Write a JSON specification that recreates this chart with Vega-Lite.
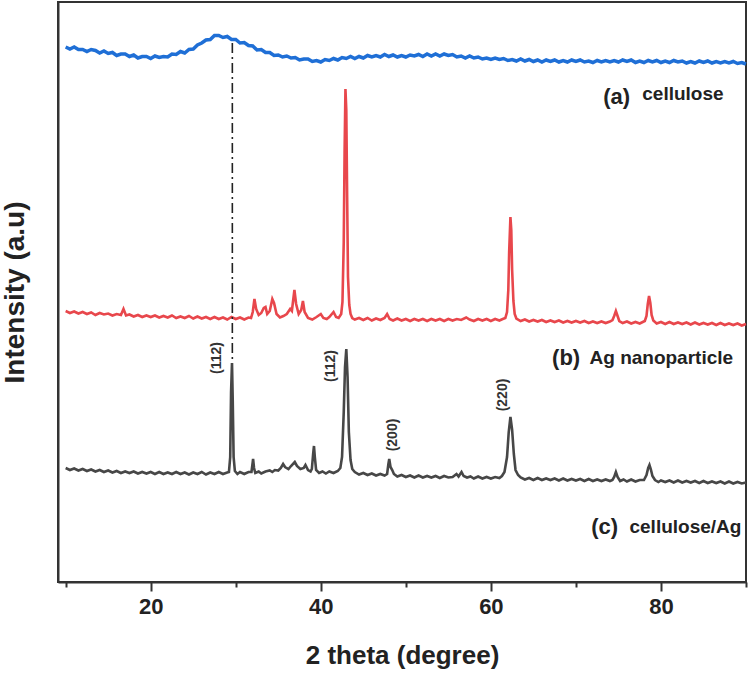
{
  "$schema": "https://vega.github.io/schema/vega-lite/v6.json",
  "width": 688,
  "height": 580,
  "autosize": {"type": "none"},
  "padding": {"left": 58, "top": 2, "right": 4, "bottom": 96},
  "background": "white",
  "config": {
    "view": {"stroke": "#333333", "strokeWidth": 2},
    "font": "Liberation Sans"
  },
  "datasets": {
    "a": [
      {"t":10,"i":535},{"t":10.5,"i":533},{"t":11,"i":535},{"t":11.5,"i":532.5},{"t":12,"i":532.5},{"t":12.5,"i":530.5},{"t":13,"i":532.5},{"t":13.5,"i":531.5},{"t":14,"i":529},{"t":14.5,"i":531},{"t":15,"i":528.5},{"t":15.5,"i":529.5},{"t":16,"i":526.5},{"t":16.5,"i":528},{"t":17,"i":528},{"t":17.5,"i":525.5},{"t":18,"i":527},{"t":18.5,"i":524},{"t":19,"i":525.5},{"t":19.5,"i":525.5},{"t":20,"i":523.5},{"t":20.5,"i":526},{"t":21,"i":524.5},{"t":21.5,"i":525.5},{"t":22,"i":525},{"t":22.5,"i":528},{"t":23,"i":527.5},{"t":23.5,"i":530.5},{"t":24,"i":529},{"t":24.5,"i":532.5},{"t":25,"i":533},{"t":25.5,"i":537},{"t":26,"i":539},{"t":26.5,"i":542},{"t":27,"i":542.5},{"t":27.5,"i":546.5},{"t":28,"i":546.5},{"t":28.5,"i":544.5},{"t":29,"i":545.5},{"t":29.5,"i":542.5},{"t":30,"i":542.5},{"t":30.5,"i":539},{"t":31,"i":539.5},{"t":31.5,"i":536.5},{"t":32,"i":536},{"t":32.5,"i":532},{"t":33,"i":532.5},{"t":33.5,"i":529.5},{"t":34,"i":529.5},{"t":34.5,"i":526.5},{"t":35,"i":527},{"t":35.5,"i":525},{"t":36,"i":526},{"t":36.5,"i":524},{"t":37,"i":524.5},{"t":37.5,"i":522},{"t":38,"i":523},{"t":38.5,"i":523},{"t":39,"i":520.5},{"t":39.5,"i":521.5},{"t":40,"i":520},{"t":40.5,"i":522.5},{"t":41,"i":521.5},{"t":41.5,"i":523.5},{"t":42,"i":522},{"t":42.5,"i":524.5},{"t":43,"i":523.5},{"t":43.5,"i":525.5},{"t":44,"i":523.5},{"t":44.5,"i":525.5},{"t":45,"i":524},{"t":45.5,"i":526.5},{"t":46,"i":525},{"t":46.5,"i":526.5},{"t":47,"i":525},{"t":47.5,"i":527.5},{"t":48,"i":525.5},{"t":48.5,"i":527},{"t":49,"i":525},{"t":49.5,"i":526.5},{"t":50,"i":525},{"t":50.5,"i":527},{"t":51,"i":526},{"t":51.5,"i":527.5},{"t":52,"i":525.5},{"t":52.5,"i":528},{"t":53,"i":526},{"t":53.5,"i":528},{"t":54,"i":526},{"t":54.5,"i":528},{"t":55,"i":526.5},{"t":55.5,"i":527.5},{"t":56,"i":525},{"t":56.5,"i":526},{"t":57,"i":524},{"t":57.5,"i":526},{"t":58,"i":524},{"t":58.5,"i":525},{"t":59,"i":523},{"t":59.5,"i":524},{"t":60,"i":522.5},{"t":60.5,"i":524},{"t":61,"i":522.5},{"t":61.5,"i":523.5},{"t":62,"i":521.5},{"t":62.5,"i":522.5},{"t":63,"i":521},{"t":63.5,"i":523},{"t":64,"i":521},{"t":64.5,"i":522.5},{"t":65,"i":520.5},{"t":65.5,"i":522},{"t":66,"i":520},{"t":66.5,"i":522},{"t":67,"i":520.5},{"t":67.5,"i":522},{"t":68,"i":520},{"t":68.5,"i":521.5},{"t":69,"i":520},{"t":69.5,"i":522},{"t":70,"i":520.5},{"t":70.5,"i":522},{"t":71,"i":520},{"t":71.5,"i":521},{"t":72,"i":519.5},{"t":72.5,"i":521.5},{"t":73,"i":520},{"t":73.5,"i":521.5},{"t":74,"i":520},{"t":74.5,"i":521.5},{"t":75,"i":520},{"t":75.5,"i":522},{"t":76,"i":520.5},{"t":76.5,"i":522},{"t":77,"i":519.5},{"t":77.5,"i":521},{"t":78,"i":519.5},{"t":78.5,"i":521.5},{"t":79,"i":520},{"t":79.5,"i":521.5},{"t":80,"i":519.5},{"t":80.5,"i":521},{"t":81,"i":519.5},{"t":81.5,"i":521.5},{"t":82,"i":520},{"t":82.5,"i":521},{"t":83,"i":519},{"t":83.5,"i":520.5},{"t":84,"i":519},{"t":84.5,"i":521},{"t":85,"i":519.5},{"t":85.5,"i":521},{"t":86,"i":519},{"t":86.5,"i":520.5},{"t":87,"i":519},{"t":87.5,"i":520.5},{"t":88,"i":519},{"t":88.5,"i":520.5},{"t":89,"i":518.5},{"t":89.5,"i":519.5},{"t":90,"i":518}
    ],
    "b": [
      {"t":10,"i":271},{"t":10.5,"i":269},{"t":11,"i":270.5},{"t":11.5,"i":268.5},{"t":12,"i":270},{"t":12.5,"i":268},{"t":13,"i":269.5},{"t":13.5,"i":267},{"t":14,"i":269},{"t":14.5,"i":267.5},{"t":15,"i":268.5},{"t":15.5,"i":266.5},{"t":16,"i":268},{"t":16.5,"i":267},{"t":16.8,"i":273},{"t":17.1,"i":266.5},{"t":17.5,"i":267.5},{"t":18,"i":265.5},{"t":18.5,"i":267},{"t":19,"i":265},{"t":19.5,"i":266.5},{"t":20,"i":265},{"t":20.5,"i":266.5},{"t":21,"i":264.5},{"t":21.5,"i":266},{"t":22,"i":264.5},{"t":22.5,"i":266.5},{"t":23,"i":264},{"t":23.5,"i":265.5},{"t":24,"i":264},{"t":24.5,"i":266},{"t":25,"i":263.5},{"t":25.5,"i":265.5},{"t":26,"i":263.5},{"t":26.5,"i":265},{"t":27,"i":263},{"t":27.5,"i":265},{"t":28,"i":263},{"t":28.5,"i":264.5},{"t":29,"i":262.5},{"t":29.5,"i":265},{"t":30,"i":263},{"t":30.5,"i":264.5},{"t":31,"i":262.5},{"t":31.5,"i":264.5},{"t":31.8,"i":264},{"t":32.0,"i":270},{"t":32.2,"i":283},{"t":32.4,"i":273},{"t":32.7,"i":267},{"t":33.0,"i":269},{"t":33.3,"i":274},{"t":33.5,"i":275},{"t":33.7,"i":268},{"t":34.0,"i":271},{"t":34.3,"i":283},{"t":34.5,"i":279},{"t":34.8,"i":268},{"t":35.2,"i":264.5},{"t":35.6,"i":266},{"t":36.0,"i":268},{"t":36.4,"i":273},{"t":36.6,"i":271},{"t":36.9,"i":292},{"t":37.1,"i":278},{"t":37.4,"i":268},{"t":37.7,"i":272},{"t":37.9,"i":281},{"t":38.1,"i":270},{"t":38.5,"i":264},{"t":39,"i":262.5},{"t":39.5,"i":265},{"t":40,"i":268},{"t":40.3,"i":264},{"t":40.7,"i":263},{"t":41,"i":265},{"t":41.5,"i":270},{"t":41.8,"i":265},{"t":42.1,"i":264},{"t":42.4,"i":268},{"t":42.55,"i":280},{"t":42.7,"i":340},{"t":42.8,"i":430},{"t":42.9,"i":493},{"t":43.0,"i":472},{"t":43.1,"i":385},{"t":43.2,"i":305},{"t":43.35,"i":277},{"t":43.5,"i":268},{"t":43.7,"i":264},{"t":44,"i":262.5},{"t":44.5,"i":264},{"t":45,"i":262},{"t":45.5,"i":264},{"t":46,"i":261.5},{"t":46.5,"i":263.5},{"t":47,"i":262},{"t":47.5,"i":264},{"t":47.8,"i":268},{"t":48.1,"i":263},{"t":48.5,"i":261.5},{"t":49,"i":263.5},{"t":49.5,"i":261.5},{"t":50,"i":263},{"t":50.5,"i":261},{"t":51,"i":263},{"t":51.5,"i":261.5},{"t":52,"i":263},{"t":52.5,"i":261},{"t":53,"i":263},{"t":53.5,"i":261.5},{"t":54,"i":263},{"t":54.5,"i":261},{"t":55,"i":263},{"t":55.5,"i":261.5},{"t":56,"i":263},{"t":56.5,"i":262},{"t":57.1,"i":264.5},{"t":57.5,"i":262.5},{"t":58,"i":261},{"t":58.5,"i":263},{"t":59,"i":261.5},{"t":59.5,"i":263},{"t":60,"i":261},{"t":60.5,"i":263},{"t":61,"i":261.5},{"t":61.4,"i":263},{"t":61.7,"i":264},{"t":61.9,"i":270},{"t":62.05,"i":292},{"t":62.15,"i":330},{"t":62.3,"i":365},{"t":62.4,"i":352},{"t":62.5,"i":312},{"t":62.65,"i":281},{"t":62.8,"i":268},{"t":63.0,"i":263.5},{"t":63.5,"i":261},{"t":64,"i":262.5},{"t":64.5,"i":260.5},{"t":65,"i":262},{"t":65.5,"i":260.5},{"t":66,"i":262},{"t":66.5,"i":260},{"t":67,"i":261.5},{"t":67.5,"i":260},{"t":68,"i":261.5},{"t":68.5,"i":259.5},{"t":69,"i":261},{"t":69.5,"i":259.5},{"t":70,"i":261},{"t":70.5,"i":259.5},{"t":71,"i":261},{"t":71.5,"i":259},{"t":72,"i":260.5},{"t":72.5,"i":259},{"t":73,"i":260.5},{"t":73.5,"i":259},{"t":74,"i":260.5},{"t":74.3,"i":262},{"t":74.5,"i":266},{"t":74.7,"i":271},{"t":74.9,"i":266},{"t":75.1,"i":261},{"t":75.5,"i":259},{"t":76,"i":260.5},{"t":76.5,"i":258.5},{"t":77,"i":260},{"t":77.5,"i":258.5},{"t":78.1,"i":261},{"t":78.3,"i":266},{"t":78.45,"i":278},{"t":78.6,"i":286},{"t":78.75,"i":279},{"t":78.9,"i":267},{"t":79.1,"i":261.5},{"t":79.5,"i":258.5},{"t":80,"i":260},{"t":80.5,"i":258},{"t":81,"i":260},{"t":81.5,"i":258},{"t":82,"i":259.5},{"t":82.5,"i":258},{"t":83,"i":259.5},{"t":83.5,"i":257.5},{"t":84,"i":259.5},{"t":84.5,"i":257.5},{"t":85,"i":259},{"t":85.5,"i":257.5},{"t":86,"i":259},{"t":86.5,"i":257},{"t":87,"i":259},{"t":87.5,"i":257},{"t":88,"i":258.5},{"t":88.5,"i":257},{"t":89,"i":258.5},{"t":89.5,"i":256.5},{"t":90,"i":258}
    ],
    "c": [
      {"t":10,"i":114},{"t":10.5,"i":112},{"t":11,"i":113.5},{"t":11.5,"i":111.5},{"t":12,"i":113},{"t":12.5,"i":111},{"t":13,"i":112.5},{"t":13.5,"i":110.5},{"t":14,"i":112},{"t":14.5,"i":110},{"t":15,"i":111.5},{"t":15.5,"i":109.5},{"t":16,"i":111},{"t":16.5,"i":109},{"t":17,"i":110.5},{"t":17.5,"i":109},{"t":18,"i":110.5},{"t":18.5,"i":108.5},{"t":19,"i":110},{"t":19.5,"i":108.5},{"t":20,"i":110},{"t":20.5,"i":108},{"t":21,"i":110},{"t":21.5,"i":108},{"t":22,"i":109.5},{"t":22.5,"i":108},{"t":23,"i":110},{"t":23.5,"i":108},{"t":24,"i":109.5},{"t":24.5,"i":107.5},{"t":25,"i":109.5},{"t":25.5,"i":108},{"t":26,"i":110},{"t":26.5,"i":107.5},{"t":27,"i":109.5},{"t":27.5,"i":108},{"t":28,"i":110},{"t":28.5,"i":108},{"t":29,"i":109.5},{"t":29.2,"i":110},{"t":29.35,"i":125},{"t":29.45,"i":190},{"t":29.56,"i":219},{"t":29.65,"i":180},{"t":29.75,"i":125},{"t":29.9,"i":111},{"t":30.2,"i":108},{"t":30.5,"i":110},{"t":31,"i":108},{"t":31.5,"i":110},{"t":31.85,"i":110},{"t":32.0,"i":120},{"t":32.04,"i":123},{"t":32.15,"i":114},{"t":32.3,"i":109},{"t":32.7,"i":110.5},{"t":33,"i":108.5},{"t":33.5,"i":110.5},{"t":34,"i":111.5},{"t":34.3,"i":110},{"t":34.6,"i":112},{"t":35.0,"i":111.5},{"t":35.3,"i":114},{"t":35.57,"i":118},{"t":35.8,"i":115},{"t":36.2,"i":113},{"t":36.5,"i":116},{"t":36.94,"i":120},{"t":37.2,"i":116},{"t":37.6,"i":113},{"t":38.0,"i":114},{"t":38.2,"i":117},{"t":38.5,"i":112},{"t":38.8,"i":110.5},{"t":38.95,"i":113},{"t":39.1,"i":128},{"t":39.2,"i":136},{"t":39.3,"i":125},{"t":39.45,"i":112},{"t":39.8,"i":109},{"t":40.2,"i":110.5},{"t":40.6,"i":108.5},{"t":41,"i":110.5},{"t":41.5,"i":109},{"t":42.0,"i":111},{"t":42.3,"i":114},{"t":42.5,"i":125},{"t":42.7,"i":170},{"t":42.85,"i":215},{"t":43.0,"i":233},{"t":43.15,"i":205},{"t":43.3,"i":150},{"t":43.5,"i":122},{"t":43.7,"i":113},{"t":44.0,"i":110},{"t":44.5,"i":107.5},{"t":45,"i":109},{"t":45.5,"i":107},{"t":46,"i":108.5},{"t":46.5,"i":106.5},{"t":47,"i":108},{"t":47.5,"i":106.5},{"t":47.8,"i":108},{"t":47.95,"i":118},{"t":48.05,"i":123},{"t":48.2,"i":115},{"t":48.4,"i":112},{"t":48.6,"i":108},{"t":49,"i":105.5},{"t":49.5,"i":107},{"t":50,"i":105},{"t":50.5,"i":106.5},{"t":51,"i":104.5},{"t":51.5,"i":106.5},{"t":52,"i":104.5},{"t":52.5,"i":106},{"t":53,"i":104.5},{"t":53.5,"i":106},{"t":54,"i":104},{"t":54.5,"i":106},{"t":55,"i":104.5},{"t":55.5,"i":105},{"t":55.96,"i":108},{"t":56.2,"i":105.5},{"t":56.55,"i":110},{"t":56.8,"i":106},{"t":57.2,"i":104.5},{"t":57.6,"i":105.5},{"t":58,"i":103.5},{"t":58.5,"i":105.5},{"t":59,"i":103.5},{"t":59.5,"i":105},{"t":60,"i":103.5},{"t":60.5,"i":105},{"t":61,"i":104},{"t":61.3,"i":106},{"t":61.6,"i":110},{"t":61.9,"i":125},{"t":62.1,"i":150},{"t":62.3,"i":165},{"t":62.5,"i":152},{"t":62.7,"i":128},{"t":62.9,"i":112},{"t":63.2,"i":107},{"t":63.5,"i":104.5},{"t":64,"i":102.5},{"t":64.5,"i":104},{"t":65,"i":102},{"t":65.5,"i":104},{"t":66,"i":102},{"t":66.5,"i":103.5},{"t":67,"i":102},{"t":67.5,"i":103.5},{"t":68,"i":101.5},{"t":68.5,"i":103.5},{"t":69,"i":101.5},{"t":69.5,"i":103},{"t":70,"i":101.5},{"t":70.5,"i":103},{"t":71,"i":101},{"t":71.5,"i":103},{"t":72,"i":101},{"t":72.5,"i":102.5},{"t":73,"i":101},{"t":73.5,"i":102.5},{"t":74,"i":101},{"t":74.3,"i":102},{"t":74.5,"i":105},{"t":74.7,"i":110},{"t":74.9,"i":105},{"t":75.2,"i":101},{"t":75.6,"i":102.5},{"t":76,"i":100.5},{"t":76.5,"i":102.5},{"t":77,"i":100.5},{"t":77.5,"i":102},{"t":78.0,"i":102},{"t":78.3,"i":107},{"t":78.5,"i":114},{"t":78.65,"i":117},{"t":78.8,"i":113},{"t":79.0,"i":106},{"t":79.3,"i":102},{"t":79.7,"i":100},{"t":80,"i":101.5},{"t":80.5,"i":100},{"t":81,"i":101.5},{"t":81.5,"i":99.5},{"t":82,"i":101.5},{"t":82.5,"i":99.5},{"t":83,"i":101},{"t":83.5,"i":99.5},{"t":84,"i":101},{"t":84.5,"i":99},{"t":85,"i":101},{"t":85.5,"i":99},{"t":86,"i":100.5},{"t":86.5,"i":99},{"t":87,"i":100.5},{"t":87.5,"i":98.5},{"t":88,"i":100.5},{"t":88.5,"i":98.5},{"t":89,"i":100},{"t":89.5,"i":98.5},{"t":90,"i":99.5}
    ],
    "guide": [{"t": 29.6, "i": 539, "i2": 219}],
    "peaks": [
      {"t": 27.8, "i": 224, "label": "(112)"},
      {"t": 41.2, "i": 216, "label": "(112)"},
      {"t": 48.5, "i": 147, "label": "(200)"},
      {"t": 61.45, "i": 187, "label": "(220)"}
    ],
    "tags": [
      {"t": 73.2, "i": 485, "label": "(a)"},
      {"t": 67.2, "i": 224, "label": "(b)"},
      {"t": 71.8, "i": 55, "label": "(c)"}
    ],
    "names": [
      {"t": 77.8, "i": 488, "label": "cellulose"},
      {"t": 71.6, "i": 224, "label": "Ag nanoparticle"},
      {"t": 76.3, "i": 55, "label": "cellulose/Ag"}
    ]
  },
  "encoding": {
    "x": {
      "field": "t",
      "type": "quantitative",
      "scale": {"domain": [9.1, 90], "nice": false, "zero": false},
      "axis": {
        "title": "2 theta (degree)",
        "values": [10, 20, 30, 40, 50, 60, 70, 80, 90],
        "labelExpr": "datum.value % 20 === 0 ? datum.label : ''",
        "grid": false,
        "domainColor": "#333333",
        "domainWidth": 2,
        "tickColor": "#333333",
        "tickWidth": 2,
        "tickSize": {"condition": {"test": "datum.value % 20 === 0", "value": 9}, "value": 5},
        "labelFont": "Liberation Sans",
        "labelFontSize": 22,
        "labelFontWeight": "bold",
        "labelColor": "#222222",
        "labelPadding": 5,
        "titleFont": "Liberation Sans",
        "titleFontSize": 26,
        "titleFontWeight": "bold",
        "titleColor": "#222222",
        "titleY": 73,
        "titleBaseline": "middle"
      }
    },
    "y": {
      "field": "i",
      "type": "quantitative",
      "scale": {"domain": [0, 580], "nice": false, "zero": false},
      "axis": {
        "title": "Intensity (a.u)",
        "ticks": false,
        "labels": false,
        "grid": false,
        "domainColor": "#333333",
        "domainWidth": 2,
        "titleFont": "Liberation Sans",
        "titleFontSize": 28,
        "titleFontWeight": "bold",
        "titleColor": "#222222",
        "titleX": -43,
        "titleY": 290,
        "titleAlign": "center",
        "titleBaseline": "middle"
      }
    }
  },
  "layer": [
    {"data": {"name": "a"}, "mark": {"type": "line", "color": "#1F6FD6", "strokeWidth": 3.5}},
    {"data": {"name": "b"}, "mark": {"type": "line", "color": "#E8474C", "strokeWidth": 2.6}},
    {"data": {"name": "c"}, "mark": {"type": "line", "color": "#474747", "strokeWidth": 2.6}},
    {"data": {"name": "guide"}, "mark": {"type": "rule", "color": "#222222", "strokeWidth": 1.6, "strokeDash": [10, 4, 2, 4]}, "encoding": {"y2": {"field": "i2"}}},
    {"data": {"name": "peaks"}, "mark": {"type": "text", "angle": 270, "align": "center", "baseline": "middle", "font": "Liberation Sans", "fontSize": 14, "fontWeight": "bold", "color": "#333333"}, "encoding": {"text": {"field": "label"}}},
    {"data": {"name": "tags"}, "mark": {"type": "text", "align": "left", "baseline": "middle", "font": "Liberation Sans", "fontSize": 22, "fontWeight": "bold", "color": "#222222"}, "encoding": {"text": {"field": "label"}}},
    {"data": {"name": "names"}, "mark": {"type": "text", "align": "left", "baseline": "middle", "font": "Liberation Sans", "fontSize": 19, "fontWeight": "bold", "color": "#222222"}, "encoding": {"text": {"field": "label"}}}
  ]
}
